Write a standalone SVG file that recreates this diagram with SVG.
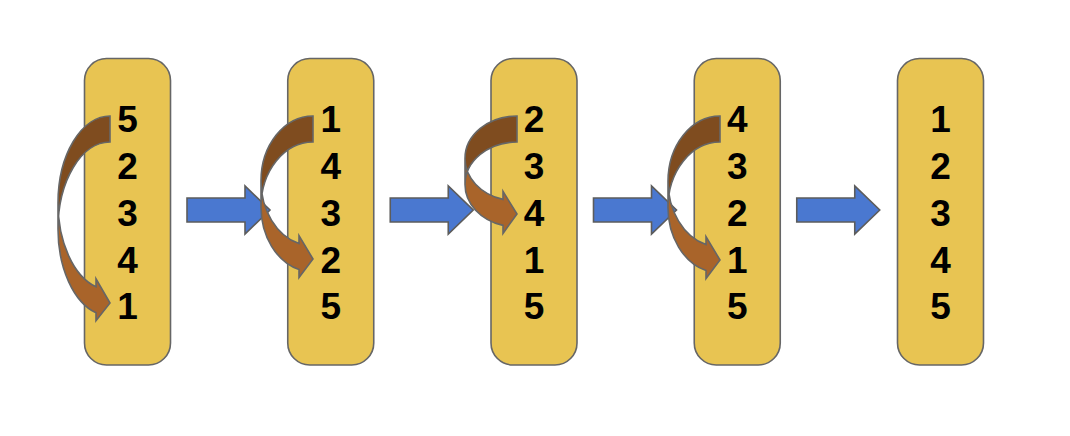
<svg xmlns="http://www.w3.org/2000/svg" width="1070" height="436" viewBox="0 0 1070 436">
<style>
.box{fill:#E8C452;stroke:#666666;stroke-width:1.6}
.num{font-family:"Liberation Sans",Arial,sans-serif;font-weight:bold;font-size:37px;fill:#000;text-anchor:middle}
.blue{fill:#4A78D0;stroke:#5C5C5C;stroke-width:1.6;stroke-linejoin:miter}
.dark{fill:#7F4C1F;stroke:none}
.light{fill:#A9642A;stroke:none}
.outl{fill:none;stroke:#666666;stroke-width:1.6;stroke-linejoin:miter}
</style>
<defs>
<path id="blueArrow" d="M0,198 H58 V186 L83,210 L58,234 V222 H0 Z"/>
</defs>
<rect width="1070" height="436" fill="#ffffff"/>
<g id="node1">
<rect class="box" x="84.5" y="58.5" width="86" height="306.5" rx="22"/>
<text class="num" x="127.5" y="132">5</text>
<text class="num" x="127.5" y="179">2</text>
<text class="num" x="127.5" y="226">3</text>
<text class="num" x="127.5" y="272.5">4</text>
<text class="num" x="127.5" y="319">1</text>
</g>
<g id="node2">
<rect class="box" x="287.75" y="58.5" width="86" height="306.5" rx="22"/>
<text class="num" x="330.75" y="132">1</text>
<text class="num" x="330.75" y="179">4</text>
<text class="num" x="330.75" y="226">3</text>
<text class="num" x="330.75" y="272.5">2</text>
<text class="num" x="330.75" y="319">5</text>
</g>
<g id="node3">
<rect class="box" x="491" y="58.5" width="86" height="306.5" rx="22"/>
<text class="num" x="534" y="132">2</text>
<text class="num" x="534" y="179">3</text>
<text class="num" x="534" y="226">4</text>
<text class="num" x="534" y="272.5">1</text>
<text class="num" x="534" y="319">5</text>
</g>
<g id="node4">
<rect class="box" x="694.25" y="58.5" width="86" height="306.5" rx="22"/>
<text class="num" x="737.25" y="132">4</text>
<text class="num" x="737.25" y="179">3</text>
<text class="num" x="737.25" y="226">2</text>
<text class="num" x="737.25" y="272.5">1</text>
<text class="num" x="737.25" y="319">5</text>
</g>
<g id="node5">
<rect class="box" x="897.5" y="58.5" width="86" height="306.5" rx="22"/>
<text class="num" x="940.5" y="132">1</text>
<text class="num" x="940.5" y="179">2</text>
<text class="num" x="940.5" y="226">3</text>
<text class="num" x="940.5" y="272.5">4</text>
<text class="num" x="940.5" y="319">5</text>
</g>
<g id="connectors">
<use href="#blueArrow" class="blue" transform="translate(187,0)"/>
<use href="#blueArrow" class="blue" transform="translate(390.25,0)"/>
<use href="#blueArrow" class="blue" transform="translate(593.5,0)"/>
<use href="#blueArrow" class="blue" transform="translate(796.75,0)"/>
<g id="swap1">
<path class="dark" d="M110,116 A52,87 0 0 0 58,203 L58,229 A52,87 0 0 1 110,142 Z"/>
<path class="light" d="M58,203 A52,87 0 0 0 96,286.8 L96,278.8 L110,303 L96,320.8 L96,312.8 A52,87 0 0 1 58,229 Z"/>
<path class="outl" d="M58,203 A52,87 0 0 0 96,286.8 L96,278.8 L110,303 L96,320.8 L96,312.8 A52,87 0 0 1 58,229 L58,203 A52,87 0 0 1 110,116 L110,142 A52,87 0 0 0 58,229"/>
</g>
<g id="swap2">
<path class="dark" d="M313,116 A52,65 0 0 0 261,181 L261,207 A52,65 0 0 1 313,142 Z"/>
<path class="light" d="M261,181 A52,65 0 0 0 299,243.6 L299,235.6 L313,259 L299,277.6 L299,269.6 A52,65 0 0 1 261,207 Z"/>
<path class="outl" d="M261,181 A52,65 0 0 0 299,243.6 L299,235.6 L313,259 L299,277.6 L299,269.6 A52,65 0 0 1 261,207 L261,181 A52,65 0 0 1 313,116 L313,142 A52,65 0 0 0 261,207"/>
</g>
<g id="swap3">
<path class="dark" d="M517,116 A52,42.5 0 0 0 465,158.5 L465,184.5 A52,42.5 0 0 1 517,142 Z"/>
<path class="light" d="M465,158.5 A52,42.5 0 0 0 503,199.4 L503,191.4 L517,214 L503,233.4 L503,225.4 A52,42.5 0 0 1 465,184.5 Z"/>
<path class="outl" d="M465,158.5 A52,42.5 0 0 0 503,199.4 L503,191.4 L517,214 L503,233.4 L503,225.4 A52,42.5 0 0 1 465,184.5 L465,158.5 A52,42.5 0 0 1 517,116 L517,142 A52,42.5 0 0 0 465,184.5"/>
</g>
<g id="swap4">
<path class="dark" d="M720,116 A52,65.5 0 0 0 668,181.5 L668,207.5 A52,65.5 0 0 1 720,142 Z"/>
<path class="light" d="M668,181.5 A52,65.5 0 0 0 706,244.6 L706,236.6 L720,260 L706,278.6 L706,270.6 A52,65.5 0 0 1 668,207.5 Z"/>
<path class="outl" d="M668,181.5 A52,65.5 0 0 0 706,244.6 L706,236.6 L720,260 L706,278.6 L706,270.6 A52,65.5 0 0 1 668,207.5 L668,181.5 A52,65.5 0 0 1 720,116 L720,142 A52,65.5 0 0 0 668,207.5"/>
</g>
</g>
</svg>
